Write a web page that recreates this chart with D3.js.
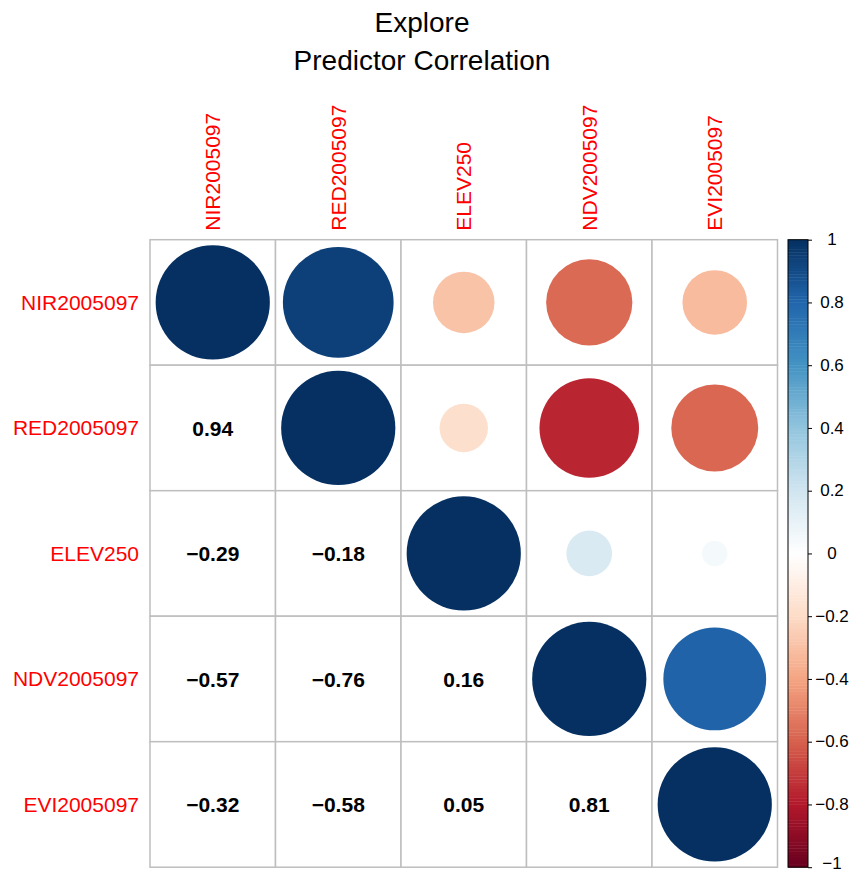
<!DOCTYPE html>
<html>
<head>
<meta charset="utf-8">
<script src="https://cdn.jsdelivr.net/npm/d3@7"></script>
<style>
  body { margin: 0; background: #fff; }
  svg { display: block; font-family: "Liberation Sans", Arial, Helvetica, sans-serif; }
</style>
</head>
<body>
<svg id="chart" width="852" height="874"></svg>
<script>
// ---- data ----
const titleLines = ["Explore", "Predictor Correlation"];
const variables = ["NIR2005097", "RED2005097", "ELEV250", "NDV2005097", "EVI2005097"];
const rowNIR  = [ 1.00,  0.94, -0.29, -0.57, -0.32];
const rowRED  = [ 0.94,  1.00, -0.18, -0.76, -0.58];
const rowELEV = [-0.29, -0.18,  1.00,  0.16,  0.05];
const rowNDV  = [-0.57, -0.76,  0.16,  1.00,  0.81];
const rowEVI  = [-0.32, -0.58,  0.05,  0.81,  1.00];
const corrRows = [rowNIR, rowRED, rowELEV, rowNDV, rowEVI];
const paletteStops = ["#67001F", "#B2182B", "#D6604D", "#F4A582", "#FDDBC7", "#FFFFFF",
                      "#D1E5F0", "#92C5DE", "#4393C3", "#2166AC", "#053061"];
const legendTicks = [-1, -0.8, -0.6, -0.4, -0.2, 0, 0.2, 0.4, 0.6, 0.8, 1];
const legendBins = 200;

// ---- layout ----
const svg = d3.select("#chart");
const gridLeft = 150, gridTop = 239.7, gridSize = 627.5;
const x = d3.scaleBand().domain(variables).range([gridLeft, gridLeft + gridSize]);
const y = d3.scaleBand().domain(variables).range([gridTop, gridTop + gridSize]);
const cell = x.bandwidth();

const color = d3.scaleLinear()
  .domain(d3.range(paletteStops.length).map(i => -1 + 2 * i / (paletteStops.length - 1)))
  .range(paletteStops)
  .interpolate(d3.interpolateRgb);

// title
svg.append("g").selectAll("text").data(titleLines).join("text")
  .attr("x", 422).attr("y", (d, i) => 32 + i * 38)
  .attr("text-anchor", "middle")
  .attr("font-size", 28)
  .attr("fill", "#000")
  .text(d => d);

// cells
const cells = [];
corrRows.forEach((row, i) => row.forEach((v, j) => cells.push({r: variables[i], c: variables[j], i, j, v})));

svg.append("g").selectAll("rect").data(cells).join("rect")
  .attr("x", d => x(d.c)).attr("y", d => y(d.r))
  .attr("width", cell).attr("height", cell)
  .attr("fill", "#fff")
  .attr("stroke", "#BEBEBE").attr("stroke-width", 1.5);

// circles (upper triangle incl. diagonal)
const maxR = 0.455 * cell;
svg.append("g").selectAll("circle").data(cells.filter(d => d.j >= d.i)).join("circle")
  .attr("cx", d => x(d.c) + cell / 2)
  .attr("cy", d => y(d.r) + cell / 2)
  .attr("r", d => maxR * Math.sqrt(Math.abs(d.v)))
  .attr("fill", d => color(d.v));

// numbers (lower triangle)
const fmt = v => (v < 0 ? "\u2212" : "") + Math.abs(v).toFixed(2);
svg.append("g").selectAll("text").data(cells.filter(d => d.j < d.i)).join("text")
  .attr("x", d => x(d.c) + cell / 2)
  .attr("y", d => y(d.r) + cell / 2)
  .attr("dy", "0.36em")
  .attr("text-anchor", "middle")
  .attr("font-size", 21)
  .attr("font-weight", "bold")
  .attr("fill", "#000")
  .text(d => fmt(d.v));

// row labels
svg.append("g").selectAll("text").data(variables).join("text")
  .attr("x", gridLeft - 11)
  .attr("y", d => y(d) + cell / 2)
  .attr("dy", "0.35em")
  .attr("text-anchor", "end")
  .attr("font-size", 21)
  .attr("fill", "#FF0000")
  .text(d => d);

// column labels
svg.append("g").selectAll("text").data(variables).join("text")
  .attr("transform", d => `translate(${x(d) + cell / 2 + 7.5},${gridTop - 9}) rotate(-90)`)
  .attr("text-anchor", "start")
  .attr("font-size", 21)
  .attr("fill", "#FF0000")
  .text(d => d);

// color legend
const legX = 788, legW = 20;
const legY = d3.scaleLinear().domain([-1, 1]).range([gridTop + gridSize, gridTop]);
const binH = (legY(-1) - legY(1)) / legendBins;
const legG = svg.append("g");
legG.selectAll("rect").data(d3.range(legendBins)).join("rect")
  .attr("x", legX)
  .attr("y", k => legY(-1 + 2 * (k + 1) / legendBins))
  .attr("width", legW)
  .attr("height", binH + 0.4)
  .attr("fill", k => color(-1 + 2 * (k + 0.5) / legendBins));
legG.append("rect")
  .attr("x", legX).attr("y", legY(1))
  .attr("width", legW).attr("height", legY(-1) - legY(1))
  .attr("fill", "none").attr("stroke", "#000").attr("stroke-width", 1);

const axis = d3.axisRight(legY).tickValues(legendTicks).tickSize(4).tickSizeOuter(0)
  .tickFormat(v => (v < 0 ? "\u2212" : "") + d3.format("")(Math.abs(v)));
const axG = svg.append("g").attr("transform", `translate(${legX + legW},0)`).call(axis);
axG.select(".domain").remove();
axG.selectAll(".tick line").attr("stroke", "#000");
axG.selectAll(".tick text")
  .attr("x", 24)
  .attr("dy", d => d === -1 ? "0.1em" : "0.3em")
  .attr("text-anchor", "middle")
  .attr("font-size", 17)
  .attr("font-family", "'Liberation Sans', Arial, sans-serif")
  .attr("fill", "#000");
</script>
</body>
</html>
